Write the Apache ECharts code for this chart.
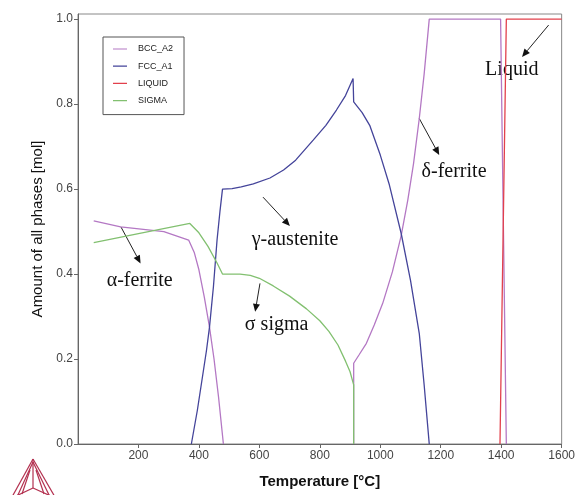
<!DOCTYPE html>
<html>
<head>
<meta charset="utf-8">
<script src="https://cdn.jsdelivr.net/npm/echarts@6/dist/echarts.min.js"></script>
<style>
  html, body { margin: 0; padding: 0; background: #fff; }
  #main { width: 578px; height: 495px; }
</style>
</head>
<body>
<div id="main"></div>
<script>
// phase amounts, temperature in C
var bccTemp   = [52, 141, 284, 366, 385, 400, 418, 435, 450, 465, 481, 700, 912, 912, 930, 954, 980, 1008, 1040, 1069, 1091, 1110, 1129, 1145, 1162, 1398, 1417];
var bccAmount = [0.525, 0.511, 0.5, 0.48, 0.45, 0.41, 0.345, 0.275, 0.2, 0.11, 0, '-', 0, 0.19, 0.21, 0.237, 0.28, 0.331, 0.405, 0.49, 0.574, 0.66, 0.766, 0.87, 1.0, 1.0, 0];

var fccTemp   = [375, 395, 410, 425, 435, 448, 460, 470, 478, 510, 540, 580, 635, 680, 720, 778, 820, 855, 885, 910, 912, 940, 965, 1000, 1030, 1069, 1100, 1129, 1145, 1162];
var fccAmount = [0, 0.08, 0.15, 0.22, 0.275, 0.37, 0.48, 0.55, 0.6, 0.601, 0.605, 0.612, 0.626, 0.645, 0.668, 0.715, 0.75, 0.786, 0.82, 0.86, 0.805, 0.78, 0.75, 0.68, 0.61, 0.496, 0.385, 0.26, 0.14, 0];

var liqTemp   = [1396, 1417, 1600];
var liqAmount = [0, 1.0, 1.0];

var sigTemp   = [52, 200, 370, 400, 430, 460, 478, 536, 570, 600, 646, 700, 756, 800, 830, 860, 885, 900, 912, 912];
var sigAmount = [0.474, 0.495, 0.519, 0.497, 0.465, 0.426, 0.4, 0.4, 0.397, 0.39, 0.372, 0.348, 0.318, 0.29, 0.265, 0.233, 0.195, 0.17, 0.139, 0];

var phaseNames  = ['BCC_A2', 'FCC_A1', 'LIQUID', 'SIGMA'];
var phaseColors = ['#b478c4', '#44449a', '#e2404c', '#82c070'];

// labels with arrows, [temp, amount] anchors
var notes = [
  { text: 'α-ferrite',   at: [204, 0.384],  from: [142, 0.511],  to: [207, 0.425] },
  { text: 'σ sigma',     at: [657, 0.28],   from: [602, 0.378],  to: [586, 0.311] },
  { text: 'γ-austenite', at: [718, 0.48],   from: [612, 0.581],  to: [701, 0.513] },
  { text: 'δ-ferrite',   at: [1244, 0.641], from: [1129, 0.766], to: [1195, 0.68] },
  { text: 'Liquid',      at: [1435, 0.88],  from: [1557, 0.986], to: [1469, 0.911] }
];

function zip(a, b) {
  return a.map(function (t, i) { return [t, b[i]]; });
}

var chart = echarts.init(document.getElementById('main'));

var seriesData = [zip(bccTemp, bccAmount), zip(fccTemp, fccAmount), zip(liqTemp, liqAmount), zip(sigTemp, sigAmount)];

// thin line icon inside a 14x10 box (corner specks keep the box size)
var lineIcon = 'path://M0,0h0.01v0.01h-0.01z M0,4.4h14v1.2h-14z M13.99,9.99h0.01v0.01h-0.01z';

chart.setOption({
  animation: false,
  backgroundColor: '#fff',
  grid: {
    left: 78, right: 15, top: 14, bottom: 51,
    show: true, borderColor: '#888', borderWidth: 1
  },
  legend: {
    orient: 'vertical',
    left: 103, top: 37,
    data: phaseNames.map(function (n) { return { name: n, icon: lineIcon }; }),
    itemWidth: 14, itemHeight: 10, itemGap: 7.2,
    padding: [7, 11, 9, 10],
    borderColor: '#555', borderWidth: 1,
    textStyle: { fontFamily: 'Liberation Sans, Arial', fontSize: 9, color: '#222', padding: [0, 0, 0, 6] }
  },
  xAxis: {
    type: 'value',
    min: 0, max: 1600, interval: 200,
    name: 'Temperature [°C]',
    nameLocation: 'middle', nameGap: 30,
    nameTextStyle: { fontFamily: 'Liberation Sans, Arial', fontSize: 15, fontWeight: 'bold', color: '#111' },
    axisLine: { lineStyle: { color: '#666' } },
    axisTick: { lineStyle: { color: '#666' }, length: 4 },
    axisLabel: {
      showMinLabel: false, fontFamily: 'Liberation Sans, Arial', fontSize: 12, color: '#444', margin: 6,
      formatter: function (v) { return String(v); }
    },
    splitLine: { show: false }
  },
  yAxis: {
    type: 'value',
    min: 0, max: 1.012, interval: 0.2,
    name: 'Amount of all phases [mol]',
    nameLocation: 'middle', nameGap: 32,
    nameTextStyle: { fontFamily: 'Liberation Sans, Arial', fontSize: 15, color: '#111' },
    axisLine: { show: true, lineStyle: { color: '#666' } },
    axisTick: { show: true, lineStyle: { color: '#666' }, length: 4 },
    axisLabel: {
      showMaxLabel: false, fontFamily: 'Liberation Sans, Arial', fontSize: 12, color: '#444', margin: 5,
      formatter: function (v) { return v.toFixed(1); }
    },
    splitLine: { show: false }
  },
  series: phaseNames.map(function (n, i) {
    return {
      name: n,
      type: 'line',
      data: seriesData[i],
      symbol: 'none',
      connectNulls: false,
      color: phaseColors[i],
      lineStyle: { width: 1.3, color: phaseColors[i] }
    };
  })
});

// annotation text and arrows
var graphics = [];
notes.forEach(function (n) {
  var p = chart.convertToPixel({ gridIndex: 0 }, n.at);
  var a = chart.convertToPixel({ gridIndex: 0 }, n.from);
  var b = chart.convertToPixel({ gridIndex: 0 }, n.to);
  graphics.push({
    type: 'text', x: p[0], y: p[1],
    style: { text: n.text, font: '20px "Liberation Serif", "Times New Roman", serif', fill: '#111', align: 'center', verticalAlign: 'middle' }
  });
  var dx = b[0] - a[0], dy = b[1] - a[1];
  var len = Math.sqrt(dx * dx + dy * dy);
  var ux = dx / len, uy = dy / len;
  var hl = 8, hw = 3.5;
  var bx = b[0] - ux * hl, by = b[1] - uy * hl;
  graphics.push({
    type: 'line',
    shape: { x1: a[0], y1: a[1], x2: bx, y2: by },
    style: { stroke: '#222', lineWidth: 1 }
  });
  graphics.push({
    type: 'polygon',
    shape: { points: [[b[0], b[1]], [bx - uy * hw, by + ux * hw], [bx + uy * hw, by - ux * hw]] },
    style: { fill: '#111' }
  });
});

// Thermo-Calc logo, bottom left
var logoColor = '#b3304f';
var logoLines = [
  [[33, 459], [12, 497]], [[33, 459], [55, 497]],
  [[33, 462], [17, 497]], [[33, 462], [50, 497]],
  [[33, 459], [33, 488]], [[33, 488], [14, 497]], [[33, 488], [53, 497]],
  [[30, 470], [22, 494]], [[36, 470], [44, 494]]
];
logoLines.forEach(function (l) {
  graphics.push({
    type: 'line',
    shape: { x1: l[0][0], y1: l[0][1], x2: l[1][0], y2: l[1][1] },
    style: { stroke: logoColor, lineWidth: 1.2 }
  });
});

chart.setOption({ graphic: graphics });
</script>
</body>
</html>
